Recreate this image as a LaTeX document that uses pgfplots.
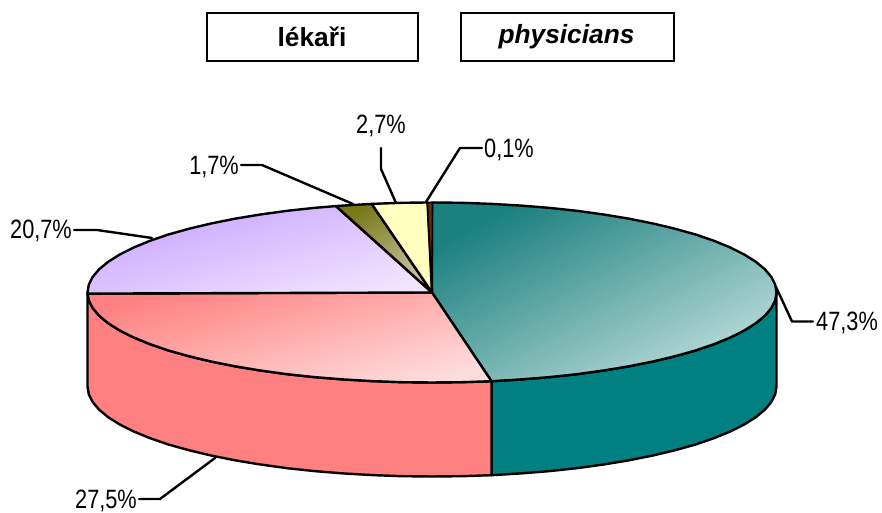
\documentclass[border=0pt]{standalone}
\usepackage{pgfplots}
\pgfplotsset{compat=1.18}
\usepackage{fontspec}
\setmainfont{Liberation Sans}
\newfontfamily\narrowf[FakeStretch=0.82]{Liberation Sans}
\newcommand{\lab}{\fontsize{26.5}{28}\selectfont\narrowf}
\definecolor{tealA}{HTML}{1C8080}
\definecolor{tealB}{HTML}{BADCD8}
\definecolor{tealS}{HTML}{008080}
\definecolor{redA}{HTML}{FF8080}
\definecolor{redB}{HTML}{FFDCDC}
\definecolor{purA}{HTML}{C8A4FF}
\definecolor{purB}{HTML}{F0E4FF}
\definecolor{oliA}{HTML}{787818}
\definecolor{oliB}{HTML}{C8C8A8}
\definecolor{yelA}{HTML}{FFFFC0}
\definecolor{broA}{HTML}{703000}
\begin{document}
\begin{tikzpicture}
\begin{axis}[
  width=882pt,height=513pt,scale only axis,
  xmin=-432,xmax=450,ymin=-220.5,ymax=292.5,
  hide axis,clip=false,
  every axis plot/.append style={line width=2.4pt,line join=round,line cap=round,forget plot},
]
\path (axis cs:-432,-220.5) rectangle (axis cs:450,292.5);
% sides
\addplot[draw=black,fill=tealS] coordinates {
(344.5,0)(343.2,-7.8)(339.3,-15.6)(332.8,-23.3)(323.7,-30.8)(312.2,-38)(298.3,-45)(282.2,-51.6)(263.9,-57.9)(243.6,-63.6)(221.4,-68.9)(197.6,-73.7)(172.25,-77.9)(145.6,-81.6)(117.8,-84.6)(89.2,-86.9)(59.5,-88.7)
(59.5,-182.7)(89.2,-180.9)(117.8,-178.6)(145.6,-175.6)(172.25,-171.9)(197.6,-167.7)(221.4,-162.9)(243.6,-157.6)(263.9,-151.9)(282.2,-145.6)(298.3,-139)(312.2,-132)(323.7,-124.8)(332.8,-117.3)(339.3,-109.6)(343.2,-101.8)(344.5,-94)
} --cycle;
\addplot[draw=black,fill=redA] coordinates {
(59.5,-88.7)(30,-89.7)(0,-90)(-30,-89.7)(-59.8,-88.6)(-89.2,-86.9)(-117.8,-84.6)(-145.6,-81.6)(-172.25,-77.9)(-197.6,-73.7)(-221.4,-68.9)(-243.6,-63.6)(-263.9,-57.9)(-282.2,-51.6)(-298.3,-45)(-312.2,-38)(-323.7,-30.8)(-332.8,-23.3)(-339.3,-15.6)(-343.2,-7.8)(-344.5,-1.1)
(-344.5,-94)(-343.2,-101.8)(-339.3,-109.6)(-332.8,-117.3)(-323.7,-124.8)(-312.2,-132)(-298.3,-139)(-282.2,-145.6)(-263.9,-151.9)(-243.6,-157.6)(-221.4,-162.9)(-197.6,-167.7)(-172.25,-171.9)(-145.6,-175.6)(-117.8,-178.6)(-89.2,-180.9)(-59.8,-182.6)(-30,-183.7)(0,-184)(30,-183.7)(59.5,-182.7)
} --cycle;
% top: 47,3 %
\addplot[draw=black,left color=tealA,right color=tealB,shading angle=27] coordinates {
(0,0)(0,90)(30,89.7)(59.8,88.6)(89.2,86.9)(117.8,84.6)(145.6,81.6)(172.25,77.9)(197.6,73.7)(221.4,68.9)(243.6,63.6)(263.9,57.9)(282.2,51.6)(298.3,45)(312.2,38)(323.7,30.8)(332.8,23.3)(339.3,15.6)(343.2,7.8)(344.5,0)(343.2,-7.8)(339.3,-15.6)(332.8,-23.3)(323.7,-30.8)(312.2,-38)(298.3,-45)(282.2,-51.6)(263.9,-57.9)(243.6,-63.6)(221.4,-68.9)(197.6,-73.7)(172.25,-77.9)(145.6,-81.6)(117.8,-84.6)(89.2,-86.9)(59.5,-88.7)
} --cycle;
% 27,5 %
\addplot[draw=black,left color=redA,right color=redB,shading angle=15] coordinates {
(0,0)(59.5,-88.7)(30,-89.7)(0,-90)(-30,-89.7)(-59.8,-88.6)(-89.2,-86.9)(-117.8,-84.6)(-145.6,-81.6)(-172.25,-77.9)(-197.6,-73.7)(-221.4,-68.9)(-243.6,-63.6)(-263.9,-57.9)(-282.2,-51.6)(-298.3,-45)(-312.2,-38)(-323.7,-30.8)(-332.8,-23.3)(-339.3,-15.6)(-343.2,-7.8)(-344.5,-1.1)
} --cycle;
% 20,7 %
\addplot[draw=black,left color=purA,right color=purB,shading angle=15] coordinates {
(0,0)(-344.5,-1.1)(-344.5,0)(-343.2,7.8)(-339.3,15.6)(-332.8,23.3)(-323.7,30.8)(-312.2,38)(-298.3,45)(-282.2,51.6)(-263.9,57.9)(-243.6,63.6)(-221.4,68.9)(-197.6,73.7)(-172.25,77.9)(-145.6,81.6)(-117.8,84.6)(-96.1,86.4)
} --cycle;
% 1,7 %
\addplot[draw=black,left color=oliA,right color=oliB,shading angle=30] coordinates {
(0,0)(-96.1,86.4)(-89.2,86.9)(-60.3,88.6)
} --cycle;
% 2,7 %
\addplot[draw=black,fill=yelA] coordinates {
(0,0)(-60.3,88.6)(-30,89.7)(-4.5,90)
} --cycle;
% 0,1 %
\addplot[draw=black,line width=1.6pt,fill=broA] coordinates {
(0,0)(-4.5,90)(0.5,90)
} --cycle;
% leaders
\addplot[black] coordinates {(344,5.5)(360,-29)(381,-29)};
\addplot[black] coordinates {(-217,-165.5)(-272,-206.5)(-293,-206.5)};
\addplot[black] coordinates {(-6,90.5)(28,144.5)(50,144.5)};
\addplot[black] coordinates {(-36,89.5)(-51,123.5)(-51,144.5)};
\addplot[black] coordinates {(-79,88.5)(-170,127.5)(-191,127.5)};
\addplot[black] coordinates {(-280,54.5)(-335,62.5)(-358,62.5)};
% labels
\node[anchor=west,inner sep=0pt,font=\lab] at (axis cs:384,-30) {47,3\%};
\node[anchor=east,inner sep=0pt,font=\lab] at (axis cs:-295,-208) {27,5\%};
\node[anchor=west,inner sep=0pt,font=\lab] at (axis cs:52,142.5) {0,1\%};
\node[anchor=center,inner sep=0pt,font=\lab] at (axis cs:-51,166.5) {2,7\%};
\node[anchor=east,inner sep=0pt,font=\lab] at (axis cs:-193,125.5) {1,7\%};
\node[anchor=east,inner sep=0pt,font=\lab] at (axis cs:-360,61.5) {20,7\%};
% title boxes
\draw[line width=1.8pt,fill=white] (axis cs:-225,279.8) rectangle (axis cs:-14,231.5);
\draw[line width=1.8pt,fill=white] (axis cs:29,279.8) rectangle (axis cs:242,231.5);
\node[font=\fontsize{26.3}{28}\selectfont\bfseries] at (axis cs:-120,255.5) {lékaři};
\node[font=\fontsize{26.3}{28}\selectfont\bfseries\itshape] at (axis cs:134.5,255.5) {physicians};
\end{axis}
\end{tikzpicture}
\end{document}
